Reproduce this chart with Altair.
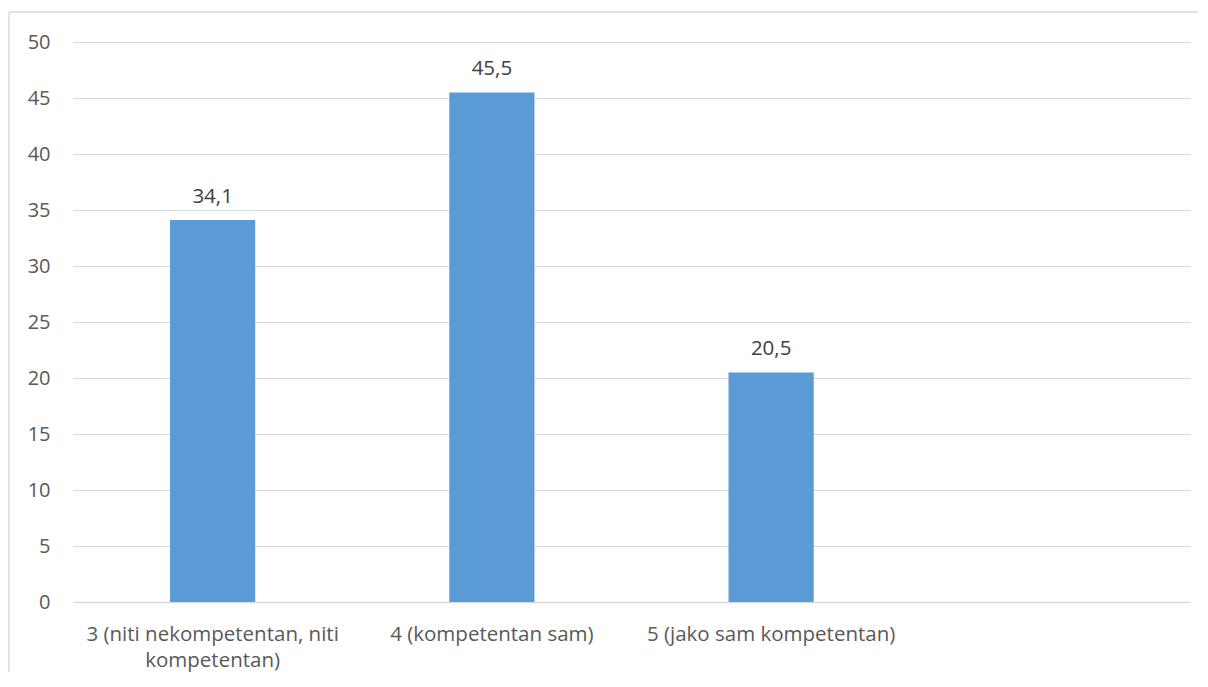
import altair as alt
import pandas as pd

categories = ["3 (niti nekompetentan, niti kompetentan)", "4 (kompetentan sam)", "5 (jako sam kompetentan)"]
values = [34.1, 45.5, 20.5]
domain = categories + [" "]

df = pd.DataFrame({"cat": categories, "val": values})

FONT = "Open Sans"
GREY = "#595959"

xscale = alt.Scale(domain=domain, paddingInner=0.695, paddingOuter=0.3475)
yscale = alt.Scale(domain=[0, 50])

label_expr = ("datum.value == '3 (niti nekompetentan, niti kompetentan)' ? "
              "['3 (niti nekompetentan, niti', 'kompetentan)'] : datum.value")

base = alt.Chart(df)

bars = base.mark_bar(color="#5b9bd5").encode(
    x=alt.X("cat:N", scale=xscale, sort=domain, title=None,
            axis=alt.Axis(labelAngle=0, labelExpr=label_expr, labelFont=FONT, labelFontSize=20.5,
                          labelColor=GREY, labelPadding=32, labelLineHeight=26, ticks=False,
                          domain=True, domainColor="#d9d9d9", domainWidth=1.5,
                          labelBaseline="middle", labelLimit=400)),
    y=alt.Y("val:Q", scale=yscale, title=None,
            axis=alt.Axis(values=list(range(0, 55, 5)), labelFont=FONT, labelFontSize=20,
                          labelColor=GREY, labelPadding=23, ticks=False, domain=False,
                          grid=True, gridColor="#d9d9d9", gridWidth=1.2)),
)

text = base.transform_calculate(
    lbl="replace(format(datum.val, '.1f'), '.', ',')"
).mark_text(font=FONT, fontSize=20.5, color="#404040", baseline="alphabetic", dy=-17).encode(
    x=alt.X("cat:N", scale=xscale, sort=domain),
    y=alt.Y("val:Q", scale=yscale),
    text="lbl:N",
)

one = pd.DataFrame({"a": [0]})
frame_top = alt.Chart(one).mark_rule(color="#d9d9d9", strokeWidth=1.5, clip=False).encode(
    x=alt.value(-64), x2=alt.value(1200), y=alt.value(-30)
)
frame_left = alt.Chart(one).mark_rule(color="#d9d9d9", strokeWidth=1.5, clip=False).encode(
    x=alt.value(-64), y=alt.value(-30), y2=alt.value(700)
)

chart = alt.layer(bars, text, frame_top, frame_left).properties(
    width=1117, height=560,
    autosize=alt.AutoSizeParams(type="none"),
    padding={"left": 65, "top": 34, "right": 8, "bottom": 70},
).configure_view(stroke=None)

chart.save("out.html", embed_options={"renderer": "svg", "actions": False})
